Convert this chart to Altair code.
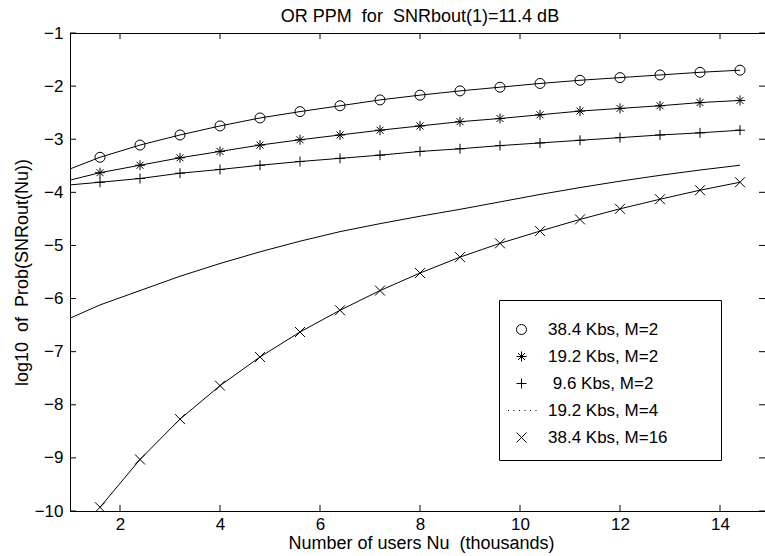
import altair as alt
import pandas as pd

# ---- data ----
series_names = ["38.4 Kbs, M=2", "19.2 Kbs, M=2", "\u200b\u00a09.6 Kbs, M=2", "19.2 Kbs, M=4", "38.4 Kbs, M=16"]
title_text = "OR PPM\u00a0\u00a0for\u00a0\u00a0SNRbout(1)=11.4 dB"

x_marks = [1.6, 2.4, 3.2, 4.0, 4.8, 5.6, 6.4, 7.2, 8.0, 8.8, 9.6, 10.4, 11.2, 12.0, 12.8, 13.6, 14.4]
x_start = 1.0

s1_start = -3.56
s1 = [-3.34, -3.11, -2.92, -2.75, -2.60, -2.48, -2.37, -2.26, -2.17, -2.09, -2.02, -1.95, -1.89, -1.84, -1.79, -1.74, -1.70]
s2_start = -3.77
s2 = [-3.63, -3.49, -3.35, -3.23, -3.11, -3.01, -2.92, -2.83, -2.75, -2.67, -2.61, -2.54, -2.47, -2.42, -2.37, -2.31, -2.27]
s3_start = -3.86
s3 = [-3.81, -3.74, -3.64, -3.57, -3.49, -3.42, -3.36, -3.30, -3.23, -3.18, -3.12, -3.07, -3.02, -2.97, -2.92, -2.88, -2.83]
s4_start = -6.37
s4 = [-6.12, -5.85, -5.58, -5.34, -5.12, -4.92, -4.74, -4.59, -4.45, -4.32, -4.18, -4.04, -3.91, -3.79, -3.68, -3.58, -3.49]
s5 = [-9.93, -9.03, -8.27, -7.64, -7.10, -6.63, -6.22, -5.85, -5.52, -5.22, -4.96, -4.73, -4.51, -4.31, -4.13, -3.96, -3.81]

x_ticks = [2, 4, 6, 8, 10, 12, 14]
y_ticks = [-1, -2, -3, -4, -5, -6, -7, -8, -9, -10]

# marker shapes (legend order)
shape_paths = [
    "circle",
    "M-1,0L1,0M0,-1L0,1M-0.7,-0.7L0.7,0.7M-0.7,0.7L0.7,-0.7",
    "M-1,0L1,0M0,-1L0,1",
    "M-2.7,0L-2.5,0M-1.6,0L-1.4,0M-0.5,0L-0.3,0M0.6,0L0.8,0M1.7,0L1.9,0M2.8,0L3.0,0",
    "M-1,-1L1,1M-1,1L1,-1",
]

FONT = "Liberation Sans"
W, H = 695, 478

# ---- tables ----
line_rows = []
for name, start, vals in [(series_names[0], s1_start, s1), (series_names[1], s2_start, s2),
                          (series_names[2], s3_start, s3), (series_names[3], s4_start, s4)]:
    line_rows.append({"series": name, "x": x_start, "y": start})
    for xv, yv in zip(x_marks, vals):
        line_rows.append({"series": name, "x": xv, "y": yv})
for xv, yv in zip(x_marks, s5):
    line_rows.append({"series": series_names[4], "x": xv, "y": yv})
df_lines = pd.DataFrame(line_rows)

pt_rows = []
for name, vals in [(series_names[0], s1), (series_names[1], s2), (series_names[2], s3), (series_names[4], s5)]:
    for xv, yv in zip(x_marks, vals):
        pt_rows.append({"series": name, "x": xv, "y": yv})
df_pts = pd.DataFrame(pt_rows)

df_xt = pd.DataFrame({"t": x_ticks})
df_yt = pd.DataFrame({"t": y_ticks})
df_title = pd.DataFrame({"label": [title_text]})

xscale = alt.Scale(domain=[1, 14.9], nice=False, zero=False)
yscale = alt.Scale(domain=[-10, -1], nice=False, zero=False)

x_axis = alt.Axis(values=x_ticks, ticks=False, tickSize=0, grid=False, labelPadding=5,
                  labelFontSize=17, labelFont=FONT, labelColor="black",
                  domainColor="black", domainWidth=1,
                  title="Number of users Nu\u00a0\u00a0(thousands)", titleFont=FONT, titleFontSize=18,
                  titleFontWeight="normal", titleColor="black", titleBaseline="alphabetic",
                  titleY=37, titleX=351, titleAlign="center", labelFlush=False)
y_axis = alt.Axis(values=y_ticks, ticks=False, tickSize=0, grid=False, labelPadding=7,
                  labelFontSize=17, labelFont=FONT, labelColor="black",
                  domainColor="black", domainWidth=1,
                  title="log10\u00a0\u00a0of\u00a0\u00a0Prob(SNRout(Nu))", titleFont=FONT, titleFontSize=18,
                  titleFontWeight="normal", titleColor="black", titleAngle=-90,
                  titleBaseline="alphabetic", titleAlign="center", titleX=-43, titleY=H / 2,
                  labelFlush=False)

lines = alt.Chart(df_lines).mark_line(color="black", strokeWidth=1, clip=True).encode(
    x=alt.X("x:Q", scale=xscale, axis=x_axis),
    y=alt.Y("y:Q", scale=yscale, axis=y_axis),
    detail="series:N",
)

points = alt.Chart(df_pts).mark_point(filled=False, color="black", strokeWidth=1, size=100, opacity=1, clip=True).encode(
    x=alt.X("x:Q", scale=xscale),
    y=alt.Y("y:Q", scale=yscale),
    shape=alt.Shape("series:N", scale=alt.Scale(domain=series_names, range=shape_paths),
                    sort=series_names,
                    legend=alt.Legend(title="M" * 58, titleFontSize=4, titlePadding=3, titleOpacity=0,
                                      titleLimit=400,
                                      orient="none", legendX=429, legendY=267,
                                      strokeColor="black", fillColor="white", padding=14,
                                      labelFont=FONT, labelFontSize=17, labelColor="black",
                                      labelOffset=18, rowPadding=9, symbolSize=100,
                                      symbolStrokeColor="black", symbolStrokeWidth=1,
                                      symbolFillColor="transparent", symbolOpacity=1,
                                      labelLimit=300)),
)

title_mark = alt.Chart(df_title).mark_text(font=FONT, fontSize=18, color="black", align="center",
                                           baseline="alphabetic").encode(
    x=alt.value(350), y=alt.value(-11.5), text="label:N")

top_border = alt.Chart(df_xt).mark_rule(color="black", strokeWidth=1).encode(
    x=alt.value(0), x2=alt.value(W), y=alt.value(0.5))

ticks_bottom = alt.Chart(df_xt).mark_rule(color="black", strokeWidth=1).encode(
    x=alt.X("t:Q", scale=xscale), y=alt.value(H), y2=alt.value(H - 6))
ticks_top = alt.Chart(df_xt).mark_rule(color="black", strokeWidth=1).encode(
    x=alt.X("t:Q", scale=xscale), y=alt.value(0), y2=alt.value(6))
ticks_left = alt.Chart(df_yt).mark_rule(color="black", strokeWidth=1).encode(
    y=alt.Y("t:Q", scale=yscale), x=alt.value(0), x2=alt.value(6))
ticks_right = alt.Chart(df_yt).mark_rule(color="black", strokeWidth=1).encode(
    y=alt.Y("t:Q", scale=yscale), x=alt.value(W), x2=alt.value(W - 6))

chart = alt.layer(lines, points, top_border, ticks_bottom, ticks_top, ticks_left, ticks_right,
                  title_mark).properties(
    width=W, height=H,
    autosize=alt.AutoSizeParams(type="none"),
    padding={"left": 70, "top": 33, "right": 0, "bottom": 45},
    background="white",
).configure_view(stroke="transparent")

chart.save("out.html", embed_options={"renderer": "svg", "actions": False})
